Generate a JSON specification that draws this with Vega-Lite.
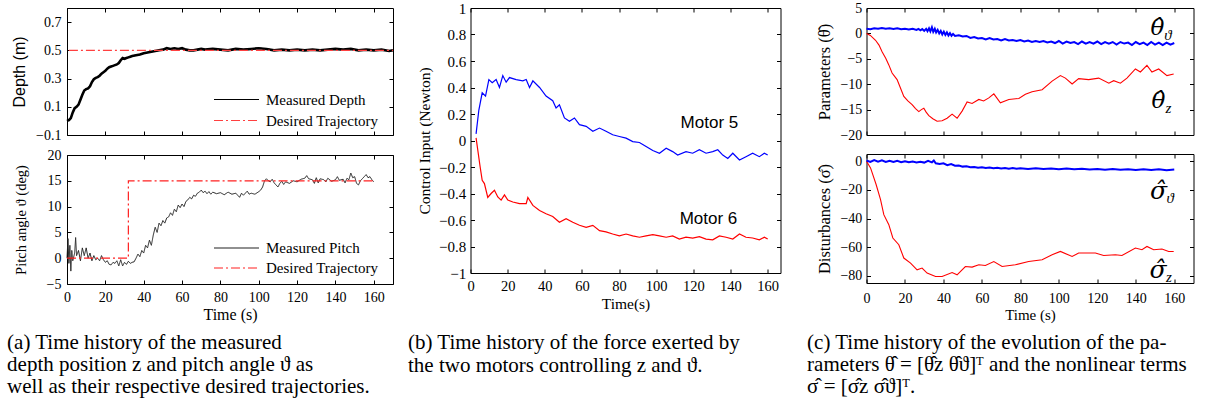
{
"$schema":"https://vega.github.io/schema/vega-lite/v6.json",
"background":"white",
"padding":{"left":7,"top":0,"right":5,"bottom":5},
"datasets":{
"dM":[{"t":0,"v":0.0,"s":"Measured Depth"},{"t":1,"v":0.005,"s":"Measured Depth"},{"t":2,"v":0.02,"s":"Measured Depth"},{"t":3,"v":0.06,"s":"Measured Depth"},{"t":4,"v":0.09,"s":"Measured Depth"},{"t":5,"v":0.1,"s":"Measured Depth"},{"t":6,"v":0.115,"s":"Measured Depth"},{"t":7,"v":0.15,"s":"Measured Depth"},{"t":8,"v":0.185,"s":"Measured Depth"},{"t":9,"v":0.215,"s":"Measured Depth"},{"t":10,"v":0.225,"s":"Measured Depth"},{"t":11,"v":0.23,"s":"Measured Depth"},{"t":12,"v":0.245,"s":"Measured Depth"},{"t":13,"v":0.275,"s":"Measured Depth"},{"t":14,"v":0.295,"s":"Measured Depth"},{"t":15,"v":0.305,"s":"Measured Depth"},{"t":16,"v":0.31,"s":"Measured Depth"},{"t":17,"v":0.32,"s":"Measured Depth"},{"t":18,"v":0.335,"s":"Measured Depth"},{"t":19,"v":0.345,"s":"Measured Depth"},{"t":20,"v":0.355,"s":"Measured Depth"},{"t":21,"v":0.37,"s":"Measured Depth"},{"t":22,"v":0.38,"s":"Measured Depth"},{"t":23,"v":0.385,"s":"Measured Depth"},{"t":24,"v":0.39,"s":"Measured Depth"},{"t":25,"v":0.395,"s":"Measured Depth"},{"t":26,"v":0.4,"s":"Measured Depth"},{"t":27,"v":0.41,"s":"Measured Depth"},{"t":28,"v":0.43,"s":"Measured Depth"},{"t":29,"v":0.445,"s":"Measured Depth"},{"t":30,"v":0.44,"s":"Measured Depth"},{"t":31,"v":0.445,"s":"Measured Depth"},{"t":32,"v":0.45,"s":"Measured Depth"},{"t":33,"v":0.455,"s":"Measured Depth"},{"t":34,"v":0.46,"s":"Measured Depth"},{"t":36,"v":0.465,"s":"Measured Depth"},{"t":38,"v":0.47,"s":"Measured Depth"},{"t":40,"v":0.48,"s":"Measured Depth"},{"t":42,"v":0.485,"s":"Measured Depth"},{"t":44,"v":0.49,"s":"Measured Depth"},{"t":46,"v":0.495,"s":"Measured Depth"},{"t":48,"v":0.5,"s":"Measured Depth"},{"t":50,"v":0.505,"s":"Measured Depth"},{"t":52,"v":0.515,"s":"Measured Depth"},{"t":54,"v":0.51,"s":"Measured Depth"},{"t":56,"v":0.515,"s":"Measured Depth"},{"t":58,"v":0.51,"s":"Measured Depth"},{"t":60,"v":0.515,"s":"Measured Depth"},{"t":62,"v":0.505,"s":"Measured Depth"},{"t":64,"v":0.5,"s":"Measured Depth"},{"t":66,"v":0.5,"s":"Measured Depth"},{"t":68,"v":0.505,"s":"Measured Depth"},{"t":70,"v":0.51,"s":"Measured Depth"},{"t":72,"v":0.505,"s":"Measured Depth"},{"t":76,"v":0.51,"s":"Measured Depth"},{"t":80,"v":0.505,"s":"Measured Depth"},{"t":84,"v":0.5,"s":"Measured Depth"},{"t":88,"v":0.51,"s":"Measured Depth"},{"t":92,"v":0.505,"s":"Measured Depth"},{"t":96,"v":0.51,"s":"Measured Depth"},{"t":100,"v":0.515,"s":"Measured Depth"},{"t":104,"v":0.51,"s":"Measured Depth"},{"t":108,"v":0.5,"s":"Measured Depth"},{"t":112,"v":0.505,"s":"Measured Depth"},{"t":116,"v":0.5,"s":"Measured Depth"},{"t":120,"v":0.505,"s":"Measured Depth"},{"t":124,"v":0.5,"s":"Measured Depth"},{"t":128,"v":0.505,"s":"Measured Depth"},{"t":132,"v":0.5,"s":"Measured Depth"},{"t":136,"v":0.505,"s":"Measured Depth"},{"t":140,"v":0.51,"s":"Measured Depth"},{"t":144,"v":0.505,"s":"Measured Depth"},{"t":148,"v":0.51,"s":"Measured Depth"},{"t":152,"v":0.5,"s":"Measured Depth"},{"t":156,"v":0.505,"s":"Measured Depth"},{"t":160,"v":0.5,"s":"Measured Depth"},{"t":164,"v":0.505,"s":"Measured Depth"},{"t":168,"v":0.495,"s":"Measured Depth"},{"t":170,"v":0.5,"s":"Measured Depth"}],
"dD":[{"t":1,"v":0.5,"s":"Desired Trajectory"},{"t":170,"v":0.5,"s":"Desired Trajectory"}],
"pM":[{"t":0,"v":0,"s":"Measured Pitch"},{"t":0.5,"v":3.8,"s":"Measured Pitch"},{"t":1,"v":-1,"s":"Measured Pitch"},{"t":1.5,"v":2.5,"s":"Measured Pitch"},{"t":2,"v":-2.5,"s":"Measured Pitch"},{"t":2.5,"v":1.5,"s":"Measured Pitch"},{"t":3,"v":-0.5,"s":"Measured Pitch"},{"t":4,"v":1,"s":"Measured Pitch"},{"t":4.5,"v":4,"s":"Measured Pitch"},{"t":5,"v":0.5,"s":"Measured Pitch"},{"t":6,"v":1.5,"s":"Measured Pitch"},{"t":7,"v":-0.5,"s":"Measured Pitch"},{"t":8,"v":2,"s":"Measured Pitch"},{"t":9,"v":0.5,"s":"Measured Pitch"},{"t":10,"v":2,"s":"Measured Pitch"},{"t":11,"v":0,"s":"Measured Pitch"},{"t":12,"v":1,"s":"Measured Pitch"},{"t":13,"v":-0.5,"s":"Measured Pitch"},{"t":14,"v":0.5,"s":"Measured Pitch"},{"t":15,"v":-0.3,"s":"Measured Pitch"},{"t":16,"v":0,"s":"Measured Pitch"},{"t":17,"v":-0.5,"s":"Measured Pitch"},{"t":18,"v":0.5,"s":"Measured Pitch"},{"t":19,"v":-0.3,"s":"Measured Pitch"},{"t":20,"v":-0.8,"s":"Measured Pitch"},{"t":21,"v":-0.5,"s":"Measured Pitch"},{"t":22,"v":-1.2,"s":"Measured Pitch"},{"t":23,"v":-1.3,"s":"Measured Pitch"},{"t":24,"v":-0.8,"s":"Measured Pitch"},{"t":25,"v":-1.0,"s":"Measured Pitch"},{"t":26,"v":-0.5,"s":"Measured Pitch"},{"t":27,"v":-1.5,"s":"Measured Pitch"},{"t":28,"v":-0.3,"s":"Measured Pitch"},{"t":29,"v":-1.5,"s":"Measured Pitch"},{"t":30,"v":-0.8,"s":"Measured Pitch"},{"t":31,"v":-1.2,"s":"Measured Pitch"},{"t":32,"v":-0.6,"s":"Measured Pitch"},{"t":33,"v":-1.0,"s":"Measured Pitch"},{"t":34,"v":-0.8,"s":"Measured Pitch"},{"t":35,"v":-0.7,"s":"Measured Pitch"},{"t":36,"v":0,"s":"Measured Pitch"},{"t":37,"v":0.8,"s":"Measured Pitch"},{"t":38,"v":0.3,"s":"Measured Pitch"},{"t":39,"v":1.5,"s":"Measured Pitch"},{"t":40,"v":1.0,"s":"Measured Pitch"},{"t":41,"v":2.5,"s":"Measured Pitch"},{"t":42,"v":2.0,"s":"Measured Pitch"},{"t":43,"v":3.5,"s":"Measured Pitch"},{"t":44,"v":2.5,"s":"Measured Pitch"},{"t":45,"v":4.5,"s":"Measured Pitch"},{"t":46,"v":6.0,"s":"Measured Pitch"},{"t":47,"v":5.0,"s":"Measured Pitch"},{"t":48,"v":6.8,"s":"Measured Pitch"},{"t":49,"v":6.3,"s":"Measured Pitch"},{"t":50,"v":7.3,"s":"Measured Pitch"},{"t":51,"v":6.8,"s":"Measured Pitch"},{"t":52,"v":7.8,"s":"Measured Pitch"},{"t":53,"v":8.0,"s":"Measured Pitch"},{"t":54,"v":8.8,"s":"Measured Pitch"},{"t":55,"v":8.3,"s":"Measured Pitch"},{"t":56,"v":9.5,"s":"Measured Pitch"},{"t":57,"v":9.0,"s":"Measured Pitch"},{"t":58,"v":10.3,"s":"Measured Pitch"},{"t":59,"v":9.8,"s":"Measured Pitch"},{"t":60,"v":10.5,"s":"Measured Pitch"},{"t":61,"v":10.0,"s":"Measured Pitch"},{"t":62,"v":11.0,"s":"Measured Pitch"},{"t":63,"v":11.3,"s":"Measured Pitch"},{"t":64,"v":11.8,"s":"Measured Pitch"},{"t":65,"v":11.5,"s":"Measured Pitch"},{"t":66,"v":12.2,"s":"Measured Pitch"},{"t":67,"v":12.0,"s":"Measured Pitch"},{"t":68,"v":12.6,"s":"Measured Pitch"},{"t":69,"v":12.8,"s":"Measured Pitch"},{"t":70,"v":13.2,"s":"Measured Pitch"},{"t":71,"v":12.7,"s":"Measured Pitch"},{"t":72,"v":13.0,"s":"Measured Pitch"},{"t":73,"v":12.5,"s":"Measured Pitch"},{"t":74,"v":12.9,"s":"Measured Pitch"},{"t":75,"v":12.4,"s":"Measured Pitch"},{"t":76,"v":12.8,"s":"Measured Pitch"},{"t":78,"v":12.5,"s":"Measured Pitch"},{"t":80,"v":12.7,"s":"Measured Pitch"},{"t":82,"v":12.3,"s":"Measured Pitch"},{"t":84,"v":12.8,"s":"Measured Pitch"},{"t":86,"v":12.4,"s":"Measured Pitch"},{"t":88,"v":12.6,"s":"Measured Pitch"},{"t":90,"v":11.8,"s":"Measured Pitch"},{"t":91,"v":12.6,"s":"Measured Pitch"},{"t":92,"v":12.2,"s":"Measured Pitch"},{"t":94,"v":13.0,"s":"Measured Pitch"},{"t":95,"v":12.4,"s":"Measured Pitch"},{"t":96,"v":12.6,"s":"Measured Pitch"},{"t":98,"v":12.4,"s":"Measured Pitch"},{"t":100,"v":12.9,"s":"Measured Pitch"},{"t":101,"v":13.2,"s":"Measured Pitch"},{"t":102,"v":13.8,"s":"Measured Pitch"},{"t":103,"v":15.0,"s":"Measured Pitch"},{"t":104,"v":15.4,"s":"Measured Pitch"},{"t":105,"v":15.0,"s":"Measured Pitch"},{"t":106,"v":14.8,"s":"Measured Pitch"},{"t":107,"v":15.3,"s":"Measured Pitch"},{"t":108,"v":14.6,"s":"Measured Pitch"},{"t":109,"v":14.2,"s":"Measured Pitch"},{"t":110,"v":13.8,"s":"Measured Pitch"},{"t":111,"v":14.5,"s":"Measured Pitch"},{"t":112,"v":14.9,"s":"Measured Pitch"},{"t":113,"v":14.3,"s":"Measured Pitch"},{"t":114,"v":14.8,"s":"Measured Pitch"},{"t":116,"v":14.5,"s":"Measured Pitch"},{"t":118,"v":15.0,"s":"Measured Pitch"},{"t":120,"v":14.8,"s":"Measured Pitch"},{"t":122,"v":15.3,"s":"Measured Pitch"},{"t":124,"v":15.5,"s":"Measured Pitch"},{"t":125,"v":16.0,"s":"Measured Pitch"},{"t":126,"v":15.4,"s":"Measured Pitch"},{"t":128,"v":15.2,"s":"Measured Pitch"},{"t":129,"v":14.5,"s":"Measured Pitch"},{"t":130,"v":15.6,"s":"Measured Pitch"},{"t":131,"v":14.6,"s":"Measured Pitch"},{"t":132,"v":15.4,"s":"Measured Pitch"},{"t":134,"v":15.2,"s":"Measured Pitch"},{"t":135,"v":14.8,"s":"Measured Pitch"},{"t":136,"v":15.5,"s":"Measured Pitch"},{"t":138,"v":14.9,"s":"Measured Pitch"},{"t":140,"v":15.2,"s":"Measured Pitch"},{"t":141,"v":15.8,"s":"Measured Pitch"},{"t":142,"v":15.1,"s":"Measured Pitch"},{"t":144,"v":15.3,"s":"Measured Pitch"},{"t":145,"v":14.6,"s":"Measured Pitch"},{"t":146,"v":15.5,"s":"Measured Pitch"},{"t":147,"v":15.2,"s":"Measured Pitch"},{"t":148,"v":16.5,"s":"Measured Pitch"},{"t":149,"v":15.6,"s":"Measured Pitch"},{"t":150,"v":15.8,"s":"Measured Pitch"},{"t":151,"v":14.5,"s":"Measured Pitch"},{"t":152,"v":14.2,"s":"Measured Pitch"},{"t":153,"v":15.0,"s":"Measured Pitch"},{"t":154,"v":15.4,"s":"Measured Pitch"},{"t":155,"v":15.8,"s":"Measured Pitch"},{"t":156,"v":16.2,"s":"Measured Pitch"},{"t":157,"v":15.6,"s":"Measured Pitch"},{"t":158,"v":15.8,"s":"Measured Pitch"},{"t":159,"v":15.2,"s":"Measured Pitch"},{"t":160,"v":14.8,"s":"Measured Pitch"}],
"pD":[{"t":0,"v":0,"i":0,"s":"Desired Trajectory"},{"t":32,"v":0,"i":1,"s":"Desired Trajectory"},{"t":32,"v":15,"i":2,"s":"Desired Trajectory"},{"t":160,"v":15,"i":3,"s":"Desired Trajectory"}],
"mot":[{"t":3,"v":0.05,"m":"Motor 5"},{"t":4.5,"v":0.23,"m":"Motor 5"},{"t":6.3,"v":0.36,"m":"Motor 5"},{"t":8.1,"v":0.335,"m":"Motor 5"},{"t":9.9,"v":0.46,"m":"Motor 5"},{"t":11.7,"v":0.437,"m":"Motor 5"},{"t":13.8,"v":0.46,"m":"Motor 5"},{"t":15.6,"v":0.4,"m":"Motor 5"},{"t":17.4,"v":0.49,"m":"Motor 5"},{"t":19.2,"v":0.44,"m":"Motor 5"},{"t":21,"v":0.475,"m":"Motor 5"},{"t":24.6,"v":0.46,"m":"Motor 5"},{"t":28.2,"v":0.45,"m":"Motor 5"},{"t":30,"v":0.46,"m":"Motor 5"},{"t":31.8,"v":0.4,"m":"Motor 5"},{"t":33.6,"v":0.45,"m":"Motor 5"},{"t":37.2,"v":0.4,"m":"Motor 5"},{"t":40.7,"v":0.335,"m":"Motor 5"},{"t":44.3,"v":0.3,"m":"Motor 5"},{"t":46.1,"v":0.246,"m":"Motor 5"},{"t":47.9,"v":0.27,"m":"Motor 5"},{"t":50.6,"v":0.17,"m":"Motor 5"},{"t":53.3,"v":0.145,"m":"Motor 5"},{"t":56,"v":0.17,"m":"Motor 5"},{"t":58.7,"v":0.12,"m":"Motor 5"},{"t":62.3,"v":0.107,"m":"Motor 5"},{"t":65.9,"v":0.07,"m":"Motor 5"},{"t":69.5,"v":0.094,"m":"Motor 5"},{"t":73,"v":0.07,"m":"Motor 5"},{"t":76.6,"v":0.043,"m":"Motor 5"},{"t":80.2,"v":0.03,"m":"Motor 5"},{"t":83.8,"v":0.018,"m":"Motor 5"},{"t":87.4,"v":-0.008,"m":"Motor 5"},{"t":91,"v":-0.015,"m":"Motor 5"},{"t":94.6,"v":-0.046,"m":"Motor 5"},{"t":98.2,"v":-0.076,"m":"Motor 5"},{"t":101.8,"v":-0.096,"m":"Motor 5"},{"t":105.4,"v":-0.058,"m":"Motor 5"},{"t":108.9,"v":-0.084,"m":"Motor 5"},{"t":111.6,"v":-0.11,"m":"Motor 5"},{"t":116.1,"v":-0.084,"m":"Motor 5"},{"t":119.7,"v":-0.096,"m":"Motor 5"},{"t":123.3,"v":-0.07,"m":"Motor 5"},{"t":126.9,"v":-0.096,"m":"Motor 5"},{"t":130.5,"v":-0.084,"m":"Motor 5"},{"t":133.2,"v":-0.07,"m":"Motor 5"},{"t":135.9,"v":-0.11,"m":"Motor 5"},{"t":138.6,"v":-0.135,"m":"Motor 5"},{"t":141.3,"v":-0.096,"m":"Motor 5"},{"t":144.9,"v":-0.147,"m":"Motor 5"},{"t":148.4,"v":-0.122,"m":"Motor 5"},{"t":152,"v":-0.096,"m":"Motor 5"},{"t":155.6,"v":-0.122,"m":"Motor 5"},{"t":158.3,"v":-0.096,"m":"Motor 5"},{"t":160.1,"v":-0.11,"m":"Motor 5"},
{"t":3,"v":0.02,"m":"Motor 6"},{"t":3.9,"v":-0.07,"m":"Motor 6"},{"t":5.2,"v":-0.2,"m":"Motor 6"},{"t":6.3,"v":-0.3,"m":"Motor 6"},{"t":7.5,"v":-0.325,"m":"Motor 6"},{"t":9.3,"v":-0.43,"m":"Motor 6"},{"t":11.1,"v":-0.4,"m":"Motor 6"},{"t":12.9,"v":-0.376,"m":"Motor 6"},{"t":14.7,"v":-0.426,"m":"Motor 6"},{"t":16.5,"v":-0.45,"m":"Motor 6"},{"t":18.3,"v":-0.41,"m":"Motor 6"},{"t":20.1,"v":-0.45,"m":"Motor 6"},{"t":22.8,"v":-0.464,"m":"Motor 6"},{"t":26.4,"v":-0.477,"m":"Motor 6"},{"t":30,"v":-0.477,"m":"Motor 6"},{"t":30.9,"v":-0.43,"m":"Motor 6"},{"t":33.6,"v":-0.49,"m":"Motor 6"},{"t":37.2,"v":-0.528,"m":"Motor 6"},{"t":40.7,"v":-0.553,"m":"Motor 6"},{"t":44.3,"v":-0.574,"m":"Motor 6"},{"t":47.9,"v":-0.617,"m":"Motor 6"},{"t":51.5,"v":-0.59,"m":"Motor 6"},{"t":55.1,"v":-0.617,"m":"Motor 6"},{"t":58.7,"v":-0.64,"m":"Motor 6"},{"t":62.3,"v":-0.655,"m":"Motor 6"},{"t":65.9,"v":-0.64,"m":"Motor 6"},{"t":69.5,"v":-0.68,"m":"Motor 6"},{"t":73,"v":-0.69,"m":"Motor 6"},{"t":76.6,"v":-0.706,"m":"Motor 6"},{"t":80.2,"v":-0.72,"m":"Motor 6"},{"t":83.8,"v":-0.706,"m":"Motor 6"},{"t":87.4,"v":-0.72,"m":"Motor 6"},{"t":91,"v":-0.73,"m":"Motor 6"},{"t":94.6,"v":-0.72,"m":"Motor 6"},{"t":98.2,"v":-0.71,"m":"Motor 6"},{"t":101.8,"v":-0.72,"m":"Motor 6"},{"t":105.4,"v":-0.73,"m":"Motor 6"},{"t":108.9,"v":-0.72,"m":"Motor 6"},{"t":112.5,"v":-0.744,"m":"Motor 6"},{"t":116.1,"v":-0.73,"m":"Motor 6"},{"t":119.7,"v":-0.736,"m":"Motor 6"},{"t":123.3,"v":-0.726,"m":"Motor 6"},{"t":126.9,"v":-0.744,"m":"Motor 6"},{"t":130.5,"v":-0.75,"m":"Motor 6"},{"t":134.1,"v":-0.72,"m":"Motor 6"},{"t":137.7,"v":-0.73,"m":"Motor 6"},{"t":141.3,"v":-0.744,"m":"Motor 6"},{"t":144.9,"v":-0.706,"m":"Motor 6"},{"t":148.4,"v":-0.73,"m":"Motor 6"},{"t":152,"v":-0.736,"m":"Motor 6"},{"t":155.6,"v":-0.75,"m":"Motor 6"},{"t":158.3,"v":-0.73,"m":"Motor 6"},{"t":160.1,"v":-0.744,"m":"Motor 6"}],
"motLab":[{"t":128.7,"v":0.132,"label":"Motor 5"},{"t":128.2,"v":-0.592,"label":"Motor 6"}],
"thZ":[{"t":0,"v":0},{"t":2,"v":-0.4},{"t":4.7,"v":-1.35},{"t":6.5,"v":-2.3},{"t":8.1,"v":-3.6},{"t":10,"v":-4.9},{"t":11.6,"v":-6.2},{"t":13.3,"v":-7.8},{"t":15.9,"v":-9.1},{"t":17.5,"v":-10.6},{"t":19.4,"v":-12.4},{"t":21.5,"v":-13.3},{"t":23.7,"v":-14.0},{"t":25.5,"v":-14.8},{"t":27.2,"v":-15.4},{"t":28.5,"v":-15.0},{"t":29.8,"v":-14.75},{"t":31,"v":-15.5},{"t":32.4,"v":-16.2},{"t":34.5,"v":-16.8},{"t":36.7,"v":-17.3},{"t":39.3,"v":-17.2},{"t":41.9,"v":-16.7},{"t":44.5,"v":-15.9},{"t":47.1,"v":-16.7},{"t":49.7,"v":-15.3},{"t":52.3,"v":-13.5},{"t":54.9,"v":-13.8},{"t":58.4,"v":-13.0},{"t":60.9,"v":-13.3},{"t":63.6,"v":-12.7},{"t":66.2,"v":-11.9},{"t":69.6,"v":-13.65},{"t":74,"v":-13.0},{"t":79.2,"v":-12.8},{"t":82.6,"v":-12.0},{"t":86.1,"v":-11.5},{"t":91.3,"v":-11.1},{"t":96.5,"v":-9.4},{"t":100.8,"v":-8.3},{"t":103.4,"v":-8.8},{"t":106.9,"v":-9.96},{"t":110.3,"v":-8.9},{"t":115.5,"v":-9.1},{"t":120.7,"v":-8.8},{"t":126,"v":-9.8},{"t":128.5,"v":-9.3},{"t":132,"v":-9.8},{"t":135.4,"v":-8.8},{"t":139.8,"v":-7.0},{"t":142.4,"v":-7.6},{"t":145.8,"v":-6.3},{"t":148.4,"v":-7.6},{"t":151.9,"v":-7.0},{"t":156.2,"v":-8.3},{"t":159.7,"v":-8.0}],
"thV":[{"t":0,"v":0.9},{"t":2,"v":0.8},{"t":4,"v":1.0},{"t":6,"v":0.9},{"t":8,"v":1.05},{"t":10,"v":0.9},{"t":12,"v":1.0},{"t":14,"v":0.85},{"t":16,"v":1.0},{"t":18,"v":0.8},{"t":20,"v":0.9},{"t":22,"v":0.75},{"t":24,"v":0.9},{"t":26,"v":0.7},{"t":27,"v":0.9},{"t":28,"v":0.6},{"t":29,"v":0.85},{"t":30,"v":0.5},{"t":31,"v":0.9},{"t":31.7,"v":0.45},{"t":32.5,"v":1.0},{"t":33.2,"v":0.4},{"t":34,"v":1.2},{"t":34.7,"v":0.3},{"t":35.5,"v":0.9},{"t":36.2,"v":0.2},{"t":37,"v":0.7},{"t":37.8,"v":0.0},{"t":38.6,"v":0.5},{"t":39.4,"v":-0.2},{"t":40.2,"v":0.35},{"t":41,"v":-0.3},{"t":41.8,"v":0.2},{"t":42.6,"v":-0.4},{"t":43.4,"v":0.05},{"t":44.2,"v":-0.45},{"t":45,"v":-0.1},{"t":46,"v":-0.5},{"t":48,"v":-0.35},{"t":50,"v":-0.6},{"t":52,"v":-0.5},{"t":54,"v":-0.9},{"t":56,"v":-0.7},{"t":58,"v":-1.0},{"t":60,"v":-0.9},{"t":62,"v":-1.2},{"t":64,"v":-0.9},{"t":66,"v":-1.2},{"t":68,"v":-1.1},{"t":70,"v":-1.4},{"t":72,"v":-1.1},{"t":74,"v":-1.4},{"t":76,"v":-1.3},{"t":78,"v":-1.5},{"t":80,"v":-1.3},{"t":82,"v":-1.6},{"t":84,"v":-1.4},{"t":86,"v":-1.7},{"t":88,"v":-1.5},{"t":90,"v":-1.7},{"t":92,"v":-1.5},{"t":94,"v":-1.8},{"t":96,"v":-1.6},{"t":98,"v":-1.9},{"t":100,"v":-1.5},{"t":102,"v":-2.0},{"t":104,"v":-1.6},{"t":106,"v":-1.9},{"t":108,"v":-1.7},{"t":110,"v":-2.1},{"t":112,"v":-1.6},{"t":114,"v":-2.0},{"t":116,"v":-1.7},{"t":118,"v":-2.0},{"t":120,"v":-1.6},{"t":122,"v":-2.1},{"t":124,"v":-1.7},{"t":126,"v":-2.0},{"t":128,"v":-1.7},{"t":130,"v":-2.2},{"t":132,"v":-1.7},{"t":134,"v":-2.0},{"t":136,"v":-1.8},{"t":138,"v":-2.3},{"t":140,"v":-1.7},{"t":142,"v":-2.1},{"t":144,"v":-1.8},{"t":146,"v":-2.3},{"t":148,"v":-1.7},{"t":150,"v":-2.2},{"t":152,"v":-1.8},{"t":154,"v":-2.3},{"t":156,"v":-1.8},{"t":158,"v":-2.2},{"t":160,"v":-1.9}],
"thLab":[{"t":151.2,"v":1.0,"main":"θ̂","sub":"ϑ"},{"t":151.8,"v":-13.3,"main":"θ̂","sub":"z"}],
"sgZ":[{"t":0,"v":0},{"t":2.1,"v":-4.7},{"t":5,"v":-16.3},{"t":7.3,"v":-26.8},{"t":9,"v":-37.3},{"t":11.6,"v":-44.3},{"t":13.7,"v":-53.6},{"t":16.8,"v":-58.3},{"t":19.4,"v":-67.6},{"t":22.9,"v":-71.1},{"t":26.3,"v":-75.8},{"t":28.9,"v":-74.6},{"t":31.5,"v":-78.1},{"t":35.9,"v":-80.5},{"t":39.3,"v":-80.5},{"t":44.5,"v":-77.7},{"t":47.1,"v":-79.3},{"t":51.4,"v":-73.5},{"t":54.9,"v":-73.9},{"t":58.4,"v":-72.3},{"t":61.8,"v":-72.8},{"t":66.2,"v":-70.0},{"t":70.5,"v":-73.5},{"t":77.4,"v":-72.3},{"t":84.3,"v":-70.0},{"t":91.3,"v":-68.8},{"t":96.5,"v":-65.3},{"t":100.8,"v":-63.0},{"t":106.9,"v":-66.5},{"t":110.3,"v":-64.1},{"t":119,"v":-64.1},{"t":123.3,"v":-65.8},{"t":129.4,"v":-65.3},{"t":132.8,"v":-65.8},{"t":139.8,"v":-60.6},{"t":143.2,"v":-61.8},{"t":145.8,"v":-59.5},{"t":149.3,"v":-61.8},{"t":153.6,"v":-61.3},{"t":157.1,"v":-63.0},{"t":159.7,"v":-63.0}],
"sgV":[{"t":0,"v":0.5},{"t":2,"v":-0.5},{"t":4,"v":0.8},{"t":6,"v":-0.3},{"t":8,"v":0.6},{"t":10,"v":-0.5},{"t":12,"v":0.3},{"t":14,"v":-0.6},{"t":16,"v":0.2},{"t":18,"v":-0.7},{"t":20,"v":0.0},{"t":22,"v":-0.8},{"t":24,"v":-0.2},{"t":26,"v":-0.9},{"t":28,"v":-0.4},{"t":30,"v":-1.0},{"t":32,"v":0.2},{"t":34,"v":-0.8},{"t":35,"v":0.5},{"t":36,"v":-1.5},{"t":38,"v":-2.0},{"t":40,"v":-1.5},{"t":42,"v":-2.8},{"t":44,"v":-2.0},{"t":46,"v":-3.2},{"t":48,"v":-3.0},{"t":50,"v":-3.8},{"t":52,"v":-3.5},{"t":54,"v":-4.2},{"t":56,"v":-4.0},{"t":58,"v":-4.6},{"t":60,"v":-4.3},{"t":62,"v":-4.8},{"t":64,"v":-4.5},{"t":66,"v":-5.0},{"t":68,"v":-4.6},{"t":70,"v":-5.1},{"t":72,"v":-4.7},{"t":74,"v":-5.2},{"t":76,"v":-4.8},{"t":78,"v":-5.3},{"t":80,"v":-4.9},{"t":84,"v":-5.4},{"t":88,"v":-5.0},{"t":92,"v":-5.5},{"t":96,"v":-5.1},{"t":100,"v":-5.6},{"t":104,"v":-5.2},{"t":108,"v":-5.7},{"t":112,"v":-5.3},{"t":116,"v":-5.8},{"t":120,"v":-5.4},{"t":124,"v":-5.9},{"t":128,"v":-5.5},{"t":132,"v":-6.0},{"t":136,"v":-5.6},{"t":140,"v":-6.1},{"t":144,"v":-5.6},{"t":148,"v":-6.2},{"t":152,"v":-5.7},{"t":156,"v":-6.3},{"t":160,"v":-5.8}],
"sgLab":[{"t":151.8,"v":-21,"main":"σ̂","sub":"ϑ"},{"t":151.5,"v":-75.7,"main":"σ̂","sub":"z"}]
},
"hconcat":[
{
"vconcat":[
{
"width":326,"height":127,
"layer":[
{"data":{"name":"dM"},"mark":{"type":"line","strokeWidth":2.6,"color":"#000000"},
"encoding":{
"x":{"field":"t","type":"quantitative","scale":{"domain":[0,170],"nice":false},"axis":{"values":[0,20,40,60,80,100,120,140,160],"labels":false,"title":null}},
"y":{"field":"v","type":"quantitative","scale":{"domain":[-0.1,0.8],"nice":false,"zero":false},"axis":{"values":[-0.1,0.1,0.3,0.5,0.7,0.8],"format":".1f","labelPadding":10,"labelOpacity":{"condition":{"test":"datum.value > 0.75","value":0},"value":1},"title":"Depth (m)","titleFont":"Liberation Sans","titleFontSize":16,"titleFontWeight":"normal","titlePadding":8}}
}},
{"data":{"name":"dM"},"mark":{"type":"line","strokeWidth":1.2},
"encoding":{
"x":{"field":"t","type":"quantitative","scale":{"domain":[0,170],"nice":false},"axis":null},
"y":{"field":"v","type":"quantitative","scale":{"domain":[-0.1,0.8],"nice":false,"zero":false},"axis":null},
"color":{"field":"s","type":"nominal","scale":{"domain":["Measured Depth","Desired Trajectory"],"range":["#000000","#ff4040"]},"legend":{"orient":"none","legendX":146,"legendY":82,"title":null,"symbolType":"stroke","symbolSize":2025,"symbolStrokeWidth":1.2,"clipHeight":19,"labelFont":"Liberation Serif","labelFontSize":15,"labelOffset":6,"padding":0,"labelColor":"black"}},
"strokeDash":{"field":"s","type":"nominal","scale":{"domain":["Measured Depth","Desired Trajectory"],"range":[[1,0],[9,3,2,3]]},"legend":{"orient":"none","legendX":146,"legendY":82,"title":null,"symbolType":"stroke","symbolSize":2025,"symbolStrokeWidth":1.2,"clipHeight":19,"labelFont":"Liberation Serif","labelFontSize":15,"labelOffset":6,"padding":0,"labelColor":"black"}}
}},
{"data":{"name":"dD"},"mark":{"type":"line","strokeWidth":1.2},
"encoding":{
"x":{"field":"t","type":"quantitative","scale":{"domain":[0,170],"nice":false},"axis":null},
"y":{"field":"v","type":"quantitative","scale":{"domain":[-0.1,0.8],"nice":false,"zero":false},"axis":null},
"color":{"field":"s","type":"nominal","scale":{"domain":["Measured Depth","Desired Trajectory"],"range":["#000000","#ff4040"]}},
"strokeDash":{"field":"s","type":"nominal","scale":{"domain":["Measured Depth","Desired Trajectory"],"range":[[1,0],[9,3,2,3]]}}
}},
{"data":{"name":"dD"},"mark":{"type":"line","opacity":0},
"encoding":{
"x":{"field":"t","type":"quantitative","scale":{"domain":[0,170],"nice":false},"axis":{"orient":"top","values":[0,20,40,60,80,100,120,140,160],"labels":false,"title":null}},
"y":{"field":"v","type":"quantitative","scale":{"domain":[-0.1,0.8],"nice":false,"zero":false},"axis":{"orient":"right","values":[-0.1,0.1,0.3,0.5,0.7],"labels":false,"title":null}}
}}
],
"resolve":{"axis":{"x":"independent","y":"independent"}}
},
{
"width":326,"height":129,
"layer":[
{"data":{"name":"pM"},"mark":{"type":"line","strokeWidth":1},
"encoding":{
"x":{"field":"t","type":"quantitative","scale":{"domain":[0,170],"nice":false},"axis":{"values":[0,20,40,60,80,100,120,140,160],"labelPadding":10,"title":"Time (s)","titleFontSize":16,"titleFontWeight":"normal","titlePadding":2}},
"y":{"field":"v","type":"quantitative","scale":{"domain":[-5,20],"nice":false,"zero":false},"axis":{"values":[-5,0,5,10,15,20],"labelPadding":10,"title":"Pitch angle ϑ (deg)","titleFontSize":14.5,"titleFontWeight":"normal","titlePadding":18}},
"color":{"field":"s","type":"nominal","scale":{"domain":["Measured Pitch","Desired Trajectory"],"range":["#222222","#ff2020"]},"legend":{"orient":"none","legendX":146,"legendY":84,"title":null,"symbolType":"stroke","symbolSize":2025,"symbolStrokeWidth":1.2,"clipHeight":18,"labelFont":"Liberation Serif","labelFontSize":15,"labelOffset":6,"padding":0,"labelColor":"black"}},
"strokeDash":{"field":"s","type":"nominal","scale":{"domain":["Measured Pitch","Desired Trajectory"],"range":[[1,0],[9,3,2,3]]},"legend":{"orient":"none","legendX":146,"legendY":84,"title":null,"symbolType":"stroke","symbolSize":2025,"symbolStrokeWidth":1.2,"clipHeight":18,"labelFont":"Liberation Serif","labelFontSize":15,"labelOffset":6,"padding":0,"labelColor":"black"}}
}},
{"data":{"name":"pD"},"mark":{"type":"line","strokeWidth":1.2},
"encoding":{
"x":{"field":"t","type":"quantitative","scale":{"domain":[0,170],"nice":false},"axis":null},
"y":{"field":"v","type":"quantitative","scale":{"domain":[-5,20],"nice":false,"zero":false},"axis":null},
"order":{"field":"i","type":"quantitative"},
"color":{"field":"s","type":"nominal","scale":{"domain":["Measured Pitch","Desired Trajectory"],"range":["#222222","#ff2020"]}},
"strokeDash":{"field":"s","type":"nominal","scale":{"domain":["Measured Pitch","Desired Trajectory"],"range":[[1,0],[9,3,2,3]]}}
}},
{"data":{"name":"pD"},"mark":{"type":"line","opacity":0},
"encoding":{
"x":{"field":"t","type":"quantitative","scale":{"domain":[0,170],"nice":false},"axis":{"orient":"top","values":[0,20,40,60,80,100,120,140,160],"labels":false,"title":null}},
"y":{"field":"v","type":"quantitative","scale":{"domain":[-5,20],"nice":false,"zero":false},"axis":{"orient":"right","values":[-5,0,5,10,15,20],"labels":false,"title":null}}
}}
],
"resolve":{"axis":{"x":"independent","y":"independent"}}
}
],
"spacing":4,
"resolve":{"scale":{"x":"independent","y":"independent","color":"independent","strokeDash":"independent"},"legend":{"color":"independent","strokeDash":"independent"}},
"title":{"text":["(a) Time history of the measured","depth position z and pitch angle ϑ as","well as their respective desired trajectories."],"orient":"bottom","anchor":"start","frame":"bounds","offset":9,"dx":-4,"font":"Liberation Serif","fontSize":21,"fontWeight":"normal","lineHeight":22,"color":"black"}
},
{
"hconcat":[
{
"width":310,"height":265,
"layer":[
{"data":{"name":"mot"},"mark":{"type":"line","strokeWidth":1.2},
"encoding":{
"x":{"field":"t","type":"quantitative","scale":{"domain":[0,167],"nice":false},"axis":{"values":[0,20,40,60,80,100,120,140,160],"labelPadding":10,"labelFontSize":14.5,"title":"Time(s)","titleFontSize":15.5,"titleFontWeight":"normal","titlePadding":4}},
"y":{"field":"v","type":"quantitative","scale":{"domain":[-1,1],"nice":false},"axis":{"values":[-1,-0.8,-0.6,-0.4,-0.2,0,0.2,0.4,0.6,0.8,1],"format":"~g","labelPadding":8.7,"labelFontSize":15,"title":"Control Input (Newton)","titleFontSize":15.5,"titleFontWeight":"normal","titlePadding":6}},
"color":{"field":"m","type":"nominal","scale":{"domain":["Motor 5","Motor 6"],"range":["#0000ff","#ff0000"]},"legend":null}
}},
{"data":{"name":"motLab"},"mark":{"type":"line","opacity":0},
"encoding":{
"x":{"field":"t","type":"quantitative","scale":{"domain":[0,167],"nice":false},"axis":{"orient":"top","values":[0,20,40,60,80,100,120,140,160],"labels":false,"title":null}},
"y":{"field":"v","type":"quantitative","scale":{"domain":[-1,1],"nice":false},"axis":{"orient":"right","values":[-1,-0.8,-0.6,-0.4,-0.2,0,0.2,0.4,0.6,0.8,1],"labels":false,"title":null}}
}},
{"data":{"name":"motLab"},"mark":{"type":"text","font":"Liberation Sans","fontSize":17,"align":"center","baseline":"middle","color":"black"},
"encoding":{
"x":{"field":"t","type":"quantitative","scale":{"domain":[0,167],"nice":false},"axis":null},
"y":{"field":"v","type":"quantitative","scale":{"domain":[-1,1],"nice":false},"axis":null},
"text":{"field":"label"}
}}
],
"resolve":{"axis":{"x":"independent","y":"independent"}},
"title":{"text":["(b) Time history of the force exerted by","the two motors controlling z and ϑ."],"orient":"bottom","anchor":"start","frame":"bounds","offset":20,"dx":-9.6,"font":"Liberation Serif","fontSize":21,"fontWeight":"normal","lineHeight":23,"color":"black"}
},
{
"vconcat":[
{
"width":327,"height":127,
"layer":[
{"data":{"name":"thZ"},"mark":{"type":"line","strokeWidth":1.1,"color":"#ff0000"},
"encoding":{
"x":{"field":"t","type":"quantitative","scale":{"domain":[0,170],"nice":false},"axis":{"values":[0,20,40,60,80,100,120,140,160],"labels":false,"title":null}},
"y":{"field":"v","type":"quantitative","scale":{"domain":[-20,5],"nice":false,"zero":false},"axis":{"values":[-20,-15,-10,-5,0,5],"labelPadding":8.7,"labelFontSize":14,"title":"Parameters (θ̂)","titleFontSize":16.5,"titleFontWeight":"normal","titlePadding":7}}
}},
{"data":{"name":"thV"},"mark":{"type":"line","strokeWidth":2,"color":"#0000ff"},
"encoding":{
"x":{"field":"t","type":"quantitative","scale":{"domain":[0,170],"nice":false},"axis":null},
"y":{"field":"v","type":"quantitative","scale":{"domain":[-20,5],"nice":false,"zero":false},"axis":null}
}},
{"data":{"name":"thLab"},"mark":{"type":"line","opacity":0},
"encoding":{
"x":{"field":"t","type":"quantitative","scale":{"domain":[0,170],"nice":false},"axis":{"orient":"top","values":[0,20,40,60,80,100,120,140,160],"labels":false,"title":null}},
"y":{"field":"v","type":"quantitative","scale":{"domain":[-20,5],"nice":false,"zero":false},"axis":{"orient":"right","values":[-20,-15,-10,-5,0,5],"labels":false,"title":null}}
}},
{"data":{"name":"thLab"},"mark":{"type":"text","font":"DejaVu Serif","fontStyle":"italic","fontSize":23,"align":"center","baseline":"middle","color":"black"},
"encoding":{
"x":{"field":"t","type":"quantitative","scale":{"domain":[0,170],"nice":false},"axis":null},
"y":{"field":"v","type":"quantitative","scale":{"domain":[-20,5],"nice":false,"zero":false},"axis":null},
"text":{"field":"main"}
}},
{"data":{"name":"thLab"},"mark":{"type":"text","font":"Liberation Serif","fontStyle":"italic","fontSize":15,"align":"left","baseline":"middle","dx":7,"dy":7,"color":"black"},
"encoding":{
"x":{"field":"t","type":"quantitative","scale":{"domain":[0,170],"nice":false},"axis":null},
"y":{"field":"v","type":"quantitative","scale":{"domain":[-20,5],"nice":false,"zero":false},"axis":null},
"text":{"field":"sub"}
}}
],
"resolve":{"axis":{"x":"independent","y":"independent"}}
},
{
"width":327,"height":129,
"layer":[
{"data":{"name":"sgZ"},"mark":{"type":"line","strokeWidth":1.1,"color":"#ff0000"},
"encoding":{
"x":{"field":"t","type":"quantitative","scale":{"domain":[0,170],"nice":false},"axis":{"values":[0,20,40,60,80,100,120,140,160],"labelPadding":12,"labelFontSize":14,"title":"Time (s)","titleFontSize":15,"titleFontWeight":"normal","titlePadding":2}},
"y":{"field":"v","type":"quantitative","scale":{"domain":[-85,5],"nice":false,"zero":false},"axis":{"values":[-80,-60,-40,-20,0],"labelPadding":8.7,"labelFontSize":14,"title":"Disturbances (σ̂)","titleFontSize":16.5,"titleFontWeight":"normal","titlePadding":7}}
}},
{"data":{"name":"sgV"},"mark":{"type":"line","strokeWidth":2,"color":"#0000ff"},
"encoding":{
"x":{"field":"t","type":"quantitative","scale":{"domain":[0,170],"nice":false},"axis":null},
"y":{"field":"v","type":"quantitative","scale":{"domain":[-85,5],"nice":false,"zero":false},"axis":null}
}},
{"data":{"name":"sgLab"},"mark":{"type":"line","opacity":0},
"encoding":{
"x":{"field":"t","type":"quantitative","scale":{"domain":[0,170],"nice":false},"axis":{"orient":"top","values":[0,20,40,60,80,100,120,140,160],"labels":false,"title":null}},
"y":{"field":"v","type":"quantitative","scale":{"domain":[-85,5],"nice":false,"zero":false},"axis":{"orient":"right","values":[-80,-60,-40,-20,0],"labels":false,"title":null}}
}},
{"data":{"name":"sgLab"},"mark":{"type":"text","font":"DejaVu Serif","fontStyle":"italic","fontSize":25,"align":"center","baseline":"middle","color":"black"},
"encoding":{
"x":{"field":"t","type":"quantitative","scale":{"domain":[0,170],"nice":false},"axis":null},
"y":{"field":"v","type":"quantitative","scale":{"domain":[-85,5],"nice":false,"zero":false},"axis":null},
"text":{"field":"main"}
}},
{"data":{"name":"sgLab"},"mark":{"type":"text","font":"Liberation Serif","fontStyle":"italic","fontSize":15,"align":"left","baseline":"middle","dx":8,"dy":7,"color":"black"},
"encoding":{
"x":{"field":"t","type":"quantitative","scale":{"domain":[0,170],"nice":false},"axis":null},
"y":{"field":"v","type":"quantitative","scale":{"domain":[-85,5],"nice":false,"zero":false},"axis":null},
"text":{"field":"sub"}
}}
],
"resolve":{"axis":{"x":"independent","y":"independent"}}
}
],
"spacing":10,
"resolve":{"scale":{"x":"independent","y":"independent"}},
"title":{"text":["(c) Time history of the evolution of the pa-","rameters θ̂ = [θ̂z θ̂ϑ]ᵀ and the nonlinear terms","σ̂ = [σ̂z σ̂ϑ]ᵀ."],"orient":"bottom","anchor":"start","frame":"bounds","offset":9,"dx":-9.3,"font":"Liberation Serif","fontSize":21,"fontWeight":"normal","lineHeight":22,"color":"black"}
}
],
"spacing":25,
"resolve":{"scale":{"x":"independent","y":"independent","color":"independent"}}
}
],
"spacing":7.5,
"resolve":{"scale":{"x":"independent","y":"independent","color":"independent","strokeDash":"independent"},"legend":{"color":"independent","strokeDash":"independent"}},
"config":{
"view":{"stroke":"black","strokeWidth":1},
"font":"Liberation Serif",
"axis":{"grid":false,"domain":false,"ticks":true,"tickColor":"black","tickSize":-4,"tickWidth":1,"labelColor":"black","labelFont":"Liberation Serif","labelFontSize":14,"labelFlush":false,"labelOverlap":false,"titleFont":"Liberation Serif","titleFontWeight":"normal","titleColor":"black","minExtent":0},
"axisY":{"minExtent":0},
"axisX":{"minExtent":0},
"axisRight":{"minExtent":0},
"axisLeft":{"minExtent":0},
"axisTop":{"minExtent":0},
"axisBottom":{"minExtent":0},
"legend":{"labelColor":"black"}
}
}
